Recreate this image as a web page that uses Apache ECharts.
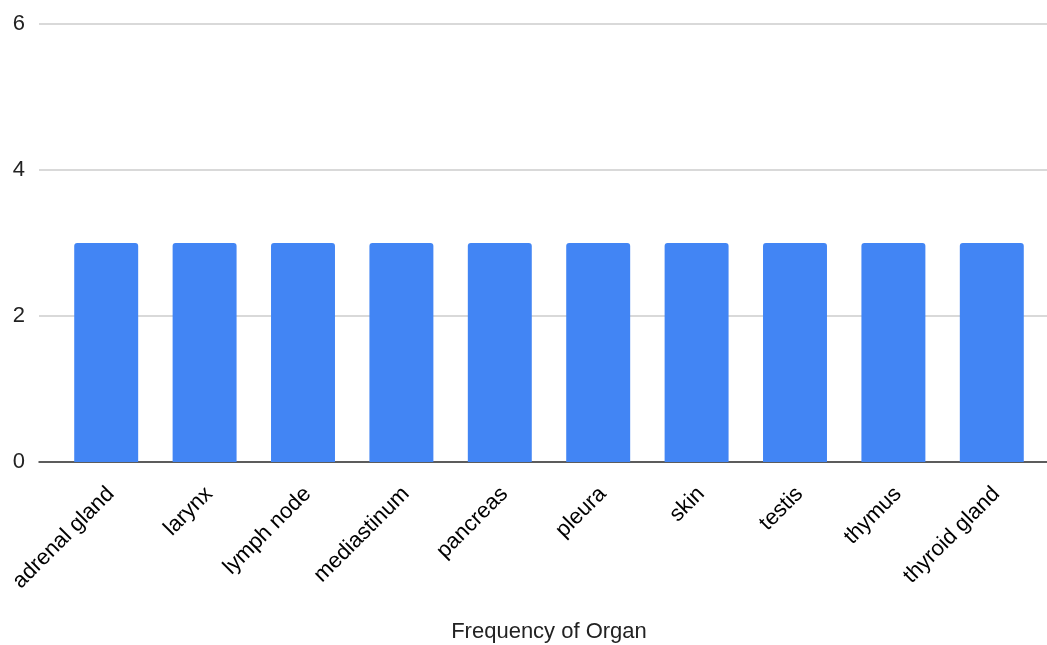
<!DOCTYPE html>
<html>
<head>
<meta charset="utf-8">
<script src="https://cdn.jsdelivr.net/npm/echarts@6/dist/echarts.min.js"></script>
<style>
  html, body { margin: 0; padding: 0; background: #fff; }
  #chart { width: 1047px; height: 645px; }
</style>
</head>
<body>
<div id="chart"></div>
<script>
// Organ counts
const organs = ['adrenal gland', 'larynx', 'lymph node', 'mediastinum', 'pancreas',
                'pleura', 'skin', 'testis', 'thymus', 'thyroid gland'];
const frequency = [3, 3, 3, 3, 3, 3, 3, 3, 3, 3];
const yTicks = { min: 0, max: 6, step: 2 };
const axisTitle = 'Frequency of Organ';

const FONT = 'Liberation Sans, Arial, sans-serif';
const chart = echarts.init(document.getElementById('chart'));

const gridBox = { top: 24, bottom: 183, containLabel: false, outerBoundsMode: 'none' };

chart.setOption({
  animation: false,
  backgroundColor: '#ffffff',
  // grid 0: full-width gridlines and y labels; grid 1: the bars
  grid: [
    Object.assign({ left: 39, right: 0 }, gridBox),
    Object.assign({ left: 57, right: 6 }, gridBox)
  ],
  xAxis: [
    {
      gridIndex: 0, type: 'category', data: organs,
      axisLine: { show: true, lineStyle: { color: '#333333', width: 1.5 } },
      axisTick: { show: false }, axisLabel: { show: false }, splitLine: { show: false }
    },
    {
      gridIndex: 1, type: 'category', data: organs,
      axisLine: { show: false }, axisTick: { show: false },
      axisLabel: {
        rotate: 45, interval: 0, margin: 24, verticalAlign: 'top', lineHeight: 13,
        color: '#000000', fontSize: 22, fontFamily: FONT
      },
      name: axisTitle, nameLocation: 'middle', nameGap: 159,
      nameTextStyle: { color: '#222222', fontSize: 22, fontFamily: FONT }
    }
  ],
  yAxis: [
    {
      gridIndex: 0, type: 'value', min: yTicks.min, max: yTicks.max, interval: yTicks.step,
      axisLine: { show: false }, axisTick: { show: false },
      axisLabel: { margin: 14, color: '#222222', fontSize: 22, fontFamily: FONT },
      splitLine: { lineStyle: { color: '#cccccc', width: 1.5 } }
    },
    {
      gridIndex: 1, type: 'value', min: yTicks.min, max: yTicks.max, interval: yTicks.step,
      axisLine: { show: false }, axisTick: { show: false },
      axisLabel: { show: false }, splitLine: { show: false }
    }
  ],
  series: [
    {
      type: 'bar', xAxisIndex: 1, yAxisIndex: 1, data: frequency,
      barCategoryGap: '35%',
      itemStyle: { color: '#4285F4', borderRadius: [3, 3, 0, 0] },
      z: 3
    }
  ]
});
</script>
</body>
</html>
